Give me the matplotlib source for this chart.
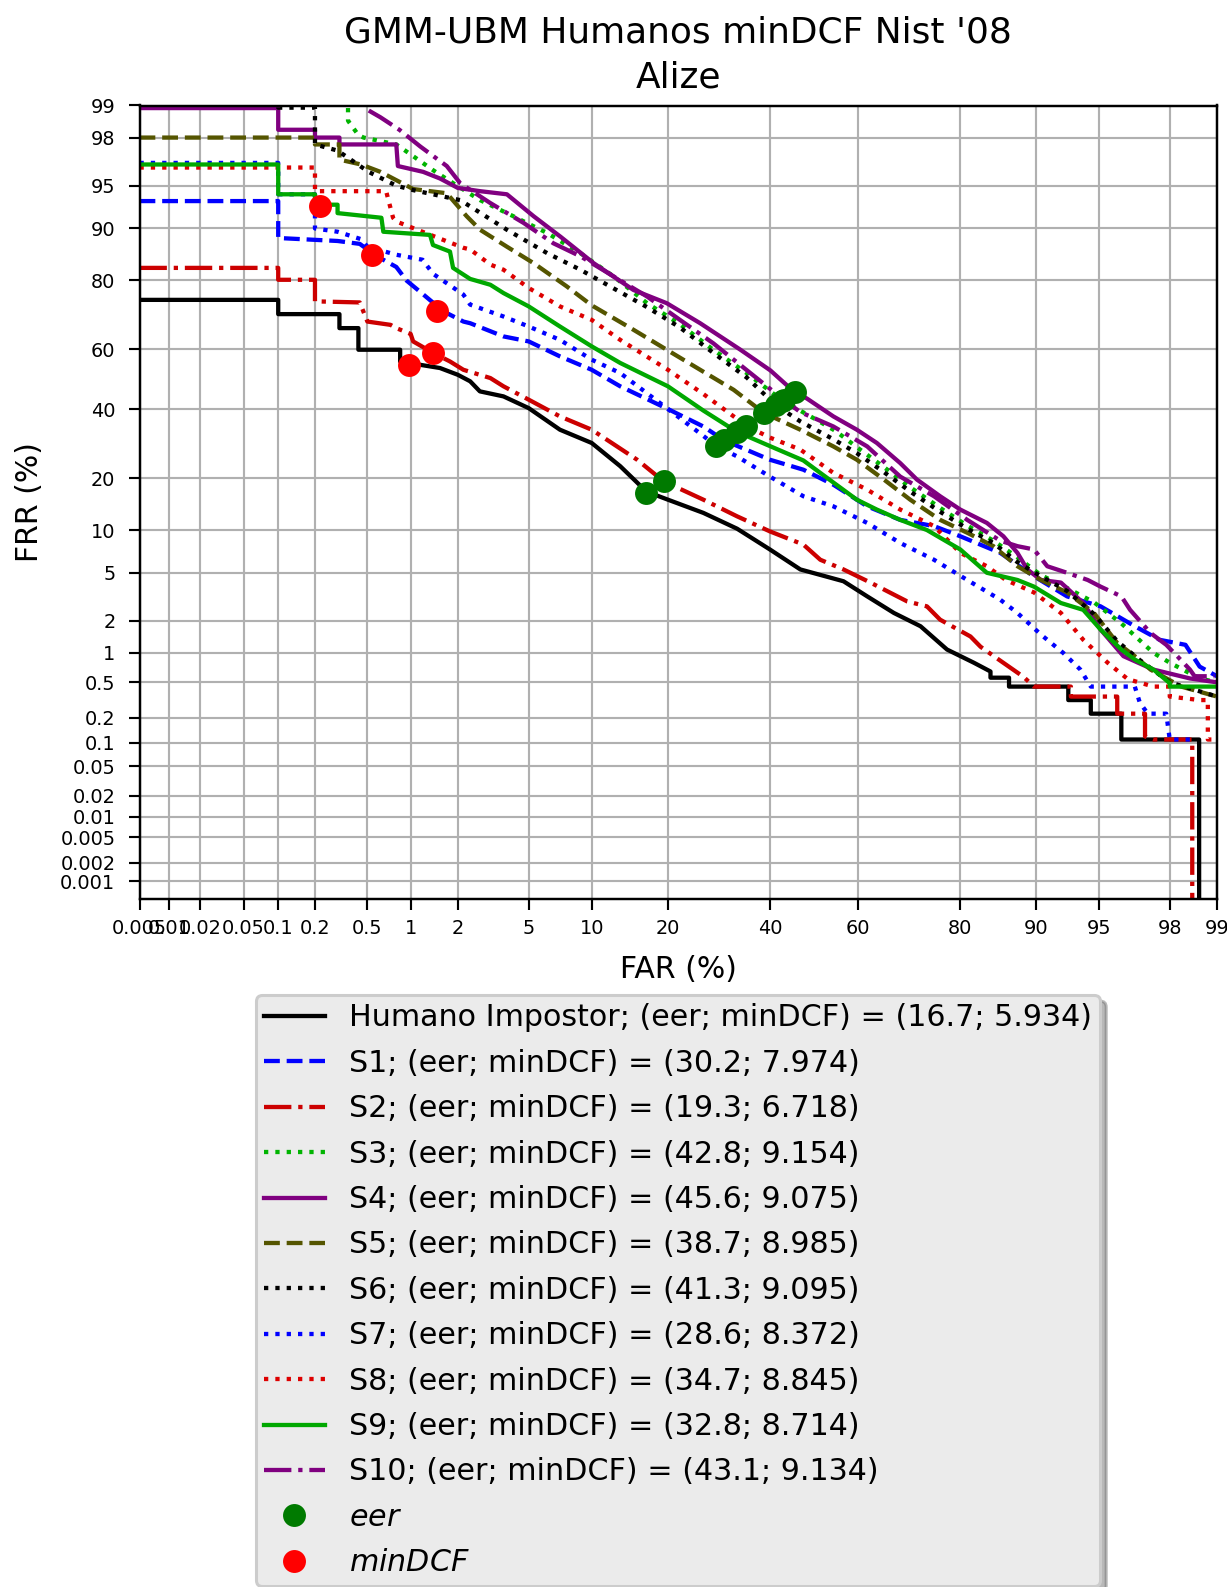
import numpy as np
import matplotlib
matplotlib.use("Agg")
import matplotlib.pyplot as plt

# ---------------- data (percent) ----------------
tick_vals = [0.001, 0.002, 0.005, 0.01, 0.02, 0.05, 0.1, 0.2, 0.5, 1, 2, 5,
             10, 20, 40, 60, 80, 90, 95, 98, 99]
tick_labels = ['0.001', '0.002', '0.005', '0.01', '0.02', '0.05', '0.1', '0.2',
               '0.5', '1', '2', '5', '10', '20', '40', '60', '80', '90', '95',
               '98', '99']

names = ['Humano Impostor', 'S1', 'S2', 'S3', 'S4', 'S5', 'S6', 'S7', 'S8', 'S9', 'S10']
eer_vals = [16.7, 30.2, 19.3, 42.8, 45.6, 38.7, 41.3, 28.6, 34.7, 32.8, 43.1]
mindcf_vals = [5.934, 7.974, 6.718, 9.154, 9.075, 8.985, 9.095, 8.372, 8.845, 8.714, 9.134]

far_h = [0.005, 0.1, 0.1, 0.31, 0.31, 0.43, 0.43, 0.85, 0.85, 1.15, 1.55, 2.0, 2.37, 2.7,
         3.67, 5.0, 7.15, 10.0, 13.2, 16.7, 20.0, 26.2, 32.9, 40.0, 46.9, 56.8, 62.1, 67.8,
         73.1, 77.9, 82.2, 84.6, 84.6, 87.0, 87.0, 92.9, 92.9, 94.5, 94.5, 96.2, 96.2,
         98.69, 98.69]
frr_h = [75.0, 75.0, 71.0, 71.0, 66.8, 66.8, 59.9, 59.9, 56.0, 54.9, 53.8, 51.5, 49.3, 45.9,
         44.2, 40.3, 33.4, 29.4, 23.0, 17.0, 15.3, 12.8, 10.2, 7.4, 5.3, 4.3, 3.25, 2.35,
         1.79, 1.08, 0.80, 0.65, 0.56, 0.56, 0.45, 0.45, 0.32, 0.32, 0.224, 0.224, 0.11,
         0.11, 0.0001]

far_s1 = [0.005, 0.1, 0.1, 0.3, 0.44, 0.5, 0.55, 0.65, 0.8, 0.94, 1.15, 1.63, 2.16, 2.37,
          3.67, 5.0, 7.15, 10.0, 13.2, 20.0, 26.2, 30.2, 40.0, 47.6, 54.5, 62.1, 69.1, 75.6,
          80.1, 85.9, 89.8, 92.8, 95.1, 96.8, 97.7, 98.4, 98.7, 99.0]
frr_s1 = [93.5, 93.5, 88.5, 88.0, 87.5, 86.5, 85.5, 84.5, 83.0, 79.9, 77.2, 71.8, 68.8, 68.3,
          64.2, 62.6, 57.7, 53.2, 47.6, 40.0, 34.4, 30.2, 24.7, 22.1, 18.5, 14.0, 11.6, 10.6,
          9.1, 7.0, 4.7, 3.25, 2.68, 1.79, 1.34, 1.2, 0.73, 0.58]

far_s2 = [0.005, 0.1, 0.1, 0.2, 0.2, 0.44, 0.5, 0.73, 0.8, 1.0, 1.04, 1.41, 1.79, 2.16, 2.37,
          3.1, 3.67, 5.0, 7.15, 10.0, 15.4, 19.3, 26.2, 32.9, 40.0, 47.6, 51.5, 56.8, 62.8,
          70.5, 74.3, 76.7, 81.7, 83.2, 85.7, 88.7, 89.8, 93.1, 93.1, 96.0, 96.0, 97.2, 97.2,
          97.5, 98.55, 98.55]
frr_s2 = [82.8, 82.8, 80.1, 80.1, 74.6, 74.3, 68.8, 67.8, 66.8, 65.0, 62.6, 58.8, 56.0, 53.2,
          52.5, 50.4, 47.6, 43.1, 37.6, 33.4, 24.7, 19.3, 15.3, 12.2, 9.8, 8.0, 6.25, 5.3, 4.2,
          2.95, 2.68, 2.05, 1.44, 1.15, 0.86, 0.57, 0.45, 0.45, 0.35, 0.35, 0.224, 0.224, 0.12,
          0.11, 0.11, 0.0001]

far_s3 = [0.005, 0.36, 0.36, 0.43, 0.47, 0.8, 1.04, 1.41, 1.88, 2.71, 4.15, 6.2, 8.9, 12.4,
          16.8, 22.0, 28.0, 35.0, 42.8, 50.0, 55.0, 60.0, 66.0, 71.0, 77.0, 81.0, 85.0, 88.0,
          90.5, 92.8, 94.7, 96.2, 97.5, 98.0, 98.7, 99.0]
frr_s3 = [99.6, 99.6, 98.6, 98.1, 98.0, 97.7, 97.1, 96.2, 95.2, 93.6, 91.7, 89.3, 85.8, 80.9,
          74.1, 68.0, 60.0, 52.0, 42.8, 37.0, 33.0, 28.0, 22.5, 18.0, 13.5, 10.8, 8.5, 6.5,
          4.8, 3.8, 2.9, 1.9, 1.0, 0.8, 0.55, 0.5]

far_s4 = [0.005, 0.1, 0.1, 0.2, 0.2, 0.31, 0.31, 0.8, 0.82, 1.21, 1.55, 2.0, 2.71, 3.83, 5.3,
          7.2, 10.2, 14.9, 19.8, 25.6, 33.6, 40.1, 45.6, 48.4, 54.5, 59.8, 64.2, 69.1, 72.4,
          76.7, 80.1, 84.1, 86.3, 88.0, 89.1, 90.5, 92.3, 94.0, 95.1, 96.3, 97.5, 98.5, 99.0]
frr_s4 = [98.94, 98.94, 98.3, 98.3, 98.0, 98.0, 97.7, 97.7, 96.5, 96.1, 95.6, 94.8, 94.5,
          94.2, 91.7, 88.7, 83.8, 77.6, 74.1, 68.3, 59.9, 53.0, 45.6, 43.5, 37.6, 33.4, 29.4,
          23.8, 19.7, 16.0, 13.4, 11.1, 9.1, 7.0, 5.3, 4.4, 4.2, 2.86, 1.67, 0.93, 0.68, 0.55,
          0.5]

far_s5 = [0.005, 0.2, 0.2, 0.31, 0.31, 0.45, 0.62, 1.04, 1.71, 2.26, 2.71, 3.83, 5.3, 7.7,
          10.0, 14.9, 19.8, 25.6, 32.2, 38.7, 46.9, 54.5, 59.8, 65.7, 71.1, 76.7, 81.2, 85.0,
          88.0, 90.5, 92.8, 94.7, 96.0, 96.8, 97.4, 98.3, 99.0]
frr_s5 = [98.0, 98.0, 97.7, 97.7, 96.9, 96.6, 96.1, 94.7, 94.3, 91.7, 89.8, 87.0, 83.8, 78.5,
          73.5, 66.3, 59.9, 53.2, 46.4, 38.7, 33.4, 28.4, 24.7, 19.7, 15.3, 11.6, 9.6, 7.8,
          5.6, 4.4, 3.5, 2.35, 1.25, 0.93, 0.68, 0.45, 0.35]

far_s6 = [0.005, 0.1, 0.1, 0.2, 0.2, 0.3, 0.51, 0.8, 1.04, 2.07, 3.83, 6.2, 8.9, 12.4, 16.8,
          22.0, 28.0, 35.0, 41.3, 46.9, 54.5, 59.8, 65.7, 71.1, 76.7, 81.2, 85.0, 88.0, 90.5,
          92.8, 94.7, 96.0, 97.0, 98.0, 98.7, 99.0]
frr_s6 = [99.5, 99.5, 98.95, 98.95, 97.7, 97.4, 96.1, 95.0, 94.6, 93.6, 89.8, 85.8, 82.4,
          78.0, 73.0, 67.0, 59.0, 50.5, 41.3, 36.0, 30.5, 26.5, 21.5, 17.0, 13.0, 10.2, 8.2,
          6.0, 4.7, 3.6, 2.3, 1.3, 0.85, 0.5, 0.4, 0.35]

far_s7 = [0.005, 0.1, 0.1, 0.2, 0.2, 0.3, 0.45, 0.5, 0.8, 1.2, 1.4, 2.16, 2.37, 3.67, 5.0,
          7.15, 10.0, 13.2, 20.0, 26.2, 28.6, 32.9, 40.0, 47.6, 54.5, 62.1, 69.1, 75.6, 81.2,
          85.9, 88.0, 90.5, 92.5, 93.8, 94.5, 96.8, 97.0, 97.3, 97.9, 98.0, 98.6]
frr_s7 = [96.7, 96.7, 94.2, 94.2, 90.0, 89.5, 88.3, 87.0, 85.5, 84.5, 81.5, 76.4, 73.7, 70.3,
          67.3, 63.1, 56.6, 52.1, 40.0, 31.5, 28.6, 25.6, 20.4, 16.0, 14.0, 11.1, 8.2, 6.25,
          4.4, 3.05, 2.35, 1.5, 1.0, 0.68, 0.45, 0.45, 0.3, 0.224, 0.224, 0.11, 0.11]

far_s8 = [0.005, 0.2, 0.2, 0.68, 0.76, 0.8, 1.35, 2.16, 2.37, 3.1, 3.67, 5.0, 7.15, 10.0,
          13.2, 20.0, 26.2, 32.9, 34.7, 40.0, 46.9, 54.5, 62.1, 69.1, 75.6, 80.1, 84.1, 86.6,
          89.8, 92.3, 94.0, 95.5, 96.5, 97.5, 98.0, 98.0, 98.7, 98.85, 98.85, 99.0]
frr_s8 = [96.4, 96.4, 94.5, 94.5, 91.5, 91.0, 89.0, 86.8, 86.5, 83.5, 82.4, 78.1, 73.2, 69.3,
          63.1, 53.2, 45.0, 36.8, 34.7, 31.0, 27.5, 21.3, 17.4, 13.4, 10.6, 7.0, 5.6, 4.4, 3.5,
          2.35, 1.34, 0.80, 0.54, 0.45, 0.45, 0.35, 0.32, 0.32, 0.11, 0.11]

far_s9 = [0.005, 0.1, 0.1, 0.2, 0.2, 0.3, 0.3, 0.63, 0.65, 1.34, 1.4, 1.79, 1.87, 2.37, 3.1,
          3.67, 5.0, 7.15, 10.0, 13.2, 20.0, 26.2, 32.8, 40.0, 47.6, 54.5, 59.8, 64.2, 69.1,
          74.3, 80.1, 84.1, 88.0, 89.8, 92.3, 94.0, 95.1, 96.2, 96.8, 97.5, 98.0, 98.0, 99.0]
frr_s9 = [96.6, 96.6, 94.2, 94.2, 93.1, 93.1, 92.1, 91.5, 89.5, 89.0, 87.3, 86.1, 82.8, 80.3,
          78.9, 76.8, 73.2, 67.3, 61.0, 55.5, 47.6, 39.5, 32.8, 28.5, 24.5, 19.0, 15.3, 13.4,
          11.6, 10.0, 7.4, 5.0, 4.4, 3.9, 2.86, 2.5, 1.67, 1.08, 0.86, 0.68, 0.49, 0.45, 0.45]

far_s10 = [0.005, 0.5, 0.5, 0.62, 0.84, 1.16, 1.71, 2.07, 3.09, 4.7, 6.65, 8.9, 12.4, 16.8,
           22.0, 28.1, 35.0, 43.1, 46.9, 54.5, 62.1, 69.1, 75.6, 81.2, 85.9, 88.0, 89.8, 91.1,
           92.8, 94.3, 95.1, 96.2, 96.6, 97.4, 97.9, 98.2, 98.5, 98.6, 98.96]
frr_s10 = [99.6, 99.6, 98.9, 98.7, 98.3, 97.6, 96.5, 95.2, 93.3, 90.8, 87.6, 85.2, 80.9, 75.9,
           69.3, 62.0, 53.0, 43.1, 39.0, 34.4, 28.4, 20.4, 16.0, 11.6, 8.5, 7.8, 7.4, 5.6, 5.0,
           4.4, 3.9, 3.25, 2.5, 1.55, 1.2, 0.93, 0.68, 0.58, 0.58]

far_mindcf = [0.22, 0.54, 1.48, 1.41, 0.98]
frr_mindcf = [92.9, 85.5, 71.8, 58.8, 54.9]


# ---------------- probit scale helper ----------------
def probit(pct):
    p = np.atleast_1d(np.asarray(pct, dtype=float)) / 100.0
    a = [-3.969683028665376e+01, 2.209460984245205e+02, -2.759285104469687e+02,
         1.383577518672690e+02, -3.066479806614716e+01, 2.506628277459239e+00]
    b = [-5.447609879822406e+01, 1.615858368580409e+02, -1.556989798598866e+02,
         6.680131188771972e+01, -1.328068155288572e+01]
    c = [-7.784894002430293e-03, -3.223964580411365e-01, -2.400758277161838e+00,
         -2.549671348133687e+00, 4.374664141464968e+00, 2.938163982698783e+00]
    d = [7.784695709041462e-03, 3.224671290700398e-01, 2.445134137142996e+00,
         3.754408661907416e+00]
    plow = 0.02425
    out = np.empty_like(p)
    lo = p < plow
    hi = p > 1 - plow
    mid = ~(lo | hi)
    q = np.sqrt(-2 * np.log(p[lo]))
    out[lo] = (((((c[0]*q + c[1])*q + c[2])*q + c[3])*q + c[4])*q + c[5]) / \
              ((((d[0]*q + d[1])*q + d[2])*q + d[3])*q + 1)
    q = p[mid] - 0.5
    r = q * q
    out[mid] = (((((a[0]*r + a[1])*r + a[2])*r + a[3])*r + a[4])*r + a[5]) * q / \
               (((((b[0]*r + b[1])*r + b[2])*r + b[3])*r + b[4])*r + 1)
    q = np.sqrt(-2 * np.log(1 - p[hi]))
    out[hi] = -(((((c[0]*q + c[1])*q + c[2])*q + c[3])*q + c[4])*q + c[5]) / \
               ((((d[0]*q + d[1])*q + d[2])*q + d[3])*q + 1)
    return out


series = [
    (far_h, frr_h, '-', 'k'),
    (far_s1, frr_s1, '--', '#0000ff'),
    (far_s2, frr_s2, '-.', '#cc0000'),
    (far_s3, frr_s3, ':', '#00b400'),
    (far_s4, frr_s4, '-', '#800080'),
    (far_s5, frr_s5, '--', '#555500'),
    (far_s6, frr_s6, ':', 'k'),
    (far_s7, frr_s7, ':', '#0000ff'),
    (far_s8, frr_s8, ':', '#dd0000'),
    (far_s9, frr_s9, '-', '#00a800'),
    (far_s10, frr_s10, '-.', '#800080'),
]

W, H, DPI = 1227, 1587, 220
fig = plt.figure(figsize=(W / DPI, H / DPI), dpi=DPI)
ax = fig.add_axes([139.5 / W, 1 - 899 / H, (1217 - 139.5) / W, (899 - 105.5) / H])

for (fa, fr, ls, col), nm, e, m in zip(series, names, eer_vals, mindcf_vals):
    ax.plot(probit(fa), probit(fr), linestyle=ls, color=col, lw=1.4,
            label=f"{nm}; (eer; minDCF) = ({e}; {m:.3f})")

ax.plot(probit(eer_vals), probit(eer_vals), 'o', color='#007a00', ms=6.5,
        label='$eer$', zorder=5)
ax.plot(probit(far_mindcf), probit(frr_mindcf), 'o', color='#ff0000', ms=6.5,
        label='$minDCF$', zorder=5)

tp = probit(tick_vals)
ax.set_xticks(tp)
ax.set_xticklabels(tick_labels)
ax.set_yticks(tp)
ax.set_yticklabels(tick_labels)
ax.set_xlim(probit(0.005)[0], probit(99)[0])
ax.set_ylim(probit(0.0005)[0], probit(99)[0])
ax.tick_params(axis='both', labelsize=6.3, length=3.6, width=0.7)
ax.tick_params(axis='x', pad=2.9)
ax.tick_params(axis='y', pad=4.3)
ax.grid(True, color='#b0b0b0', lw=0.7)
for sp in ax.spines.values():
    sp.set_linewidth(0.8)

ax.set_title("GMM-UBM Humanos minDCF Nist '08\nAlize", fontsize=11.8, linespacing=1.4)
ax.set_xlabel('FAR (%)', fontsize=9.8, va='center')
ax.xaxis.set_label_coords(0.5, (899 - 969) / 793.5)
ax.set_ylabel('FRR (%)', fontsize=9.8, va='center')
ax.yaxis.set_label_coords((30 - 139.5) / 1077.5, 0.5)

ax.legend(loc='upper center', bbox_to_anchor=(678 / W, 1 - 995 / H),
          bbox_transform=fig.transFigure, fontsize=9.85,
          shadow={'color': '0.45', 'alpha': 0.5},
          facecolor='#ebebeb', edgecolor='#cccccc', framealpha=1, borderaxespad=0,
          labelspacing=0.545, borderpad=0.28)

fig.savefig('out.png', dpi=DPI)
